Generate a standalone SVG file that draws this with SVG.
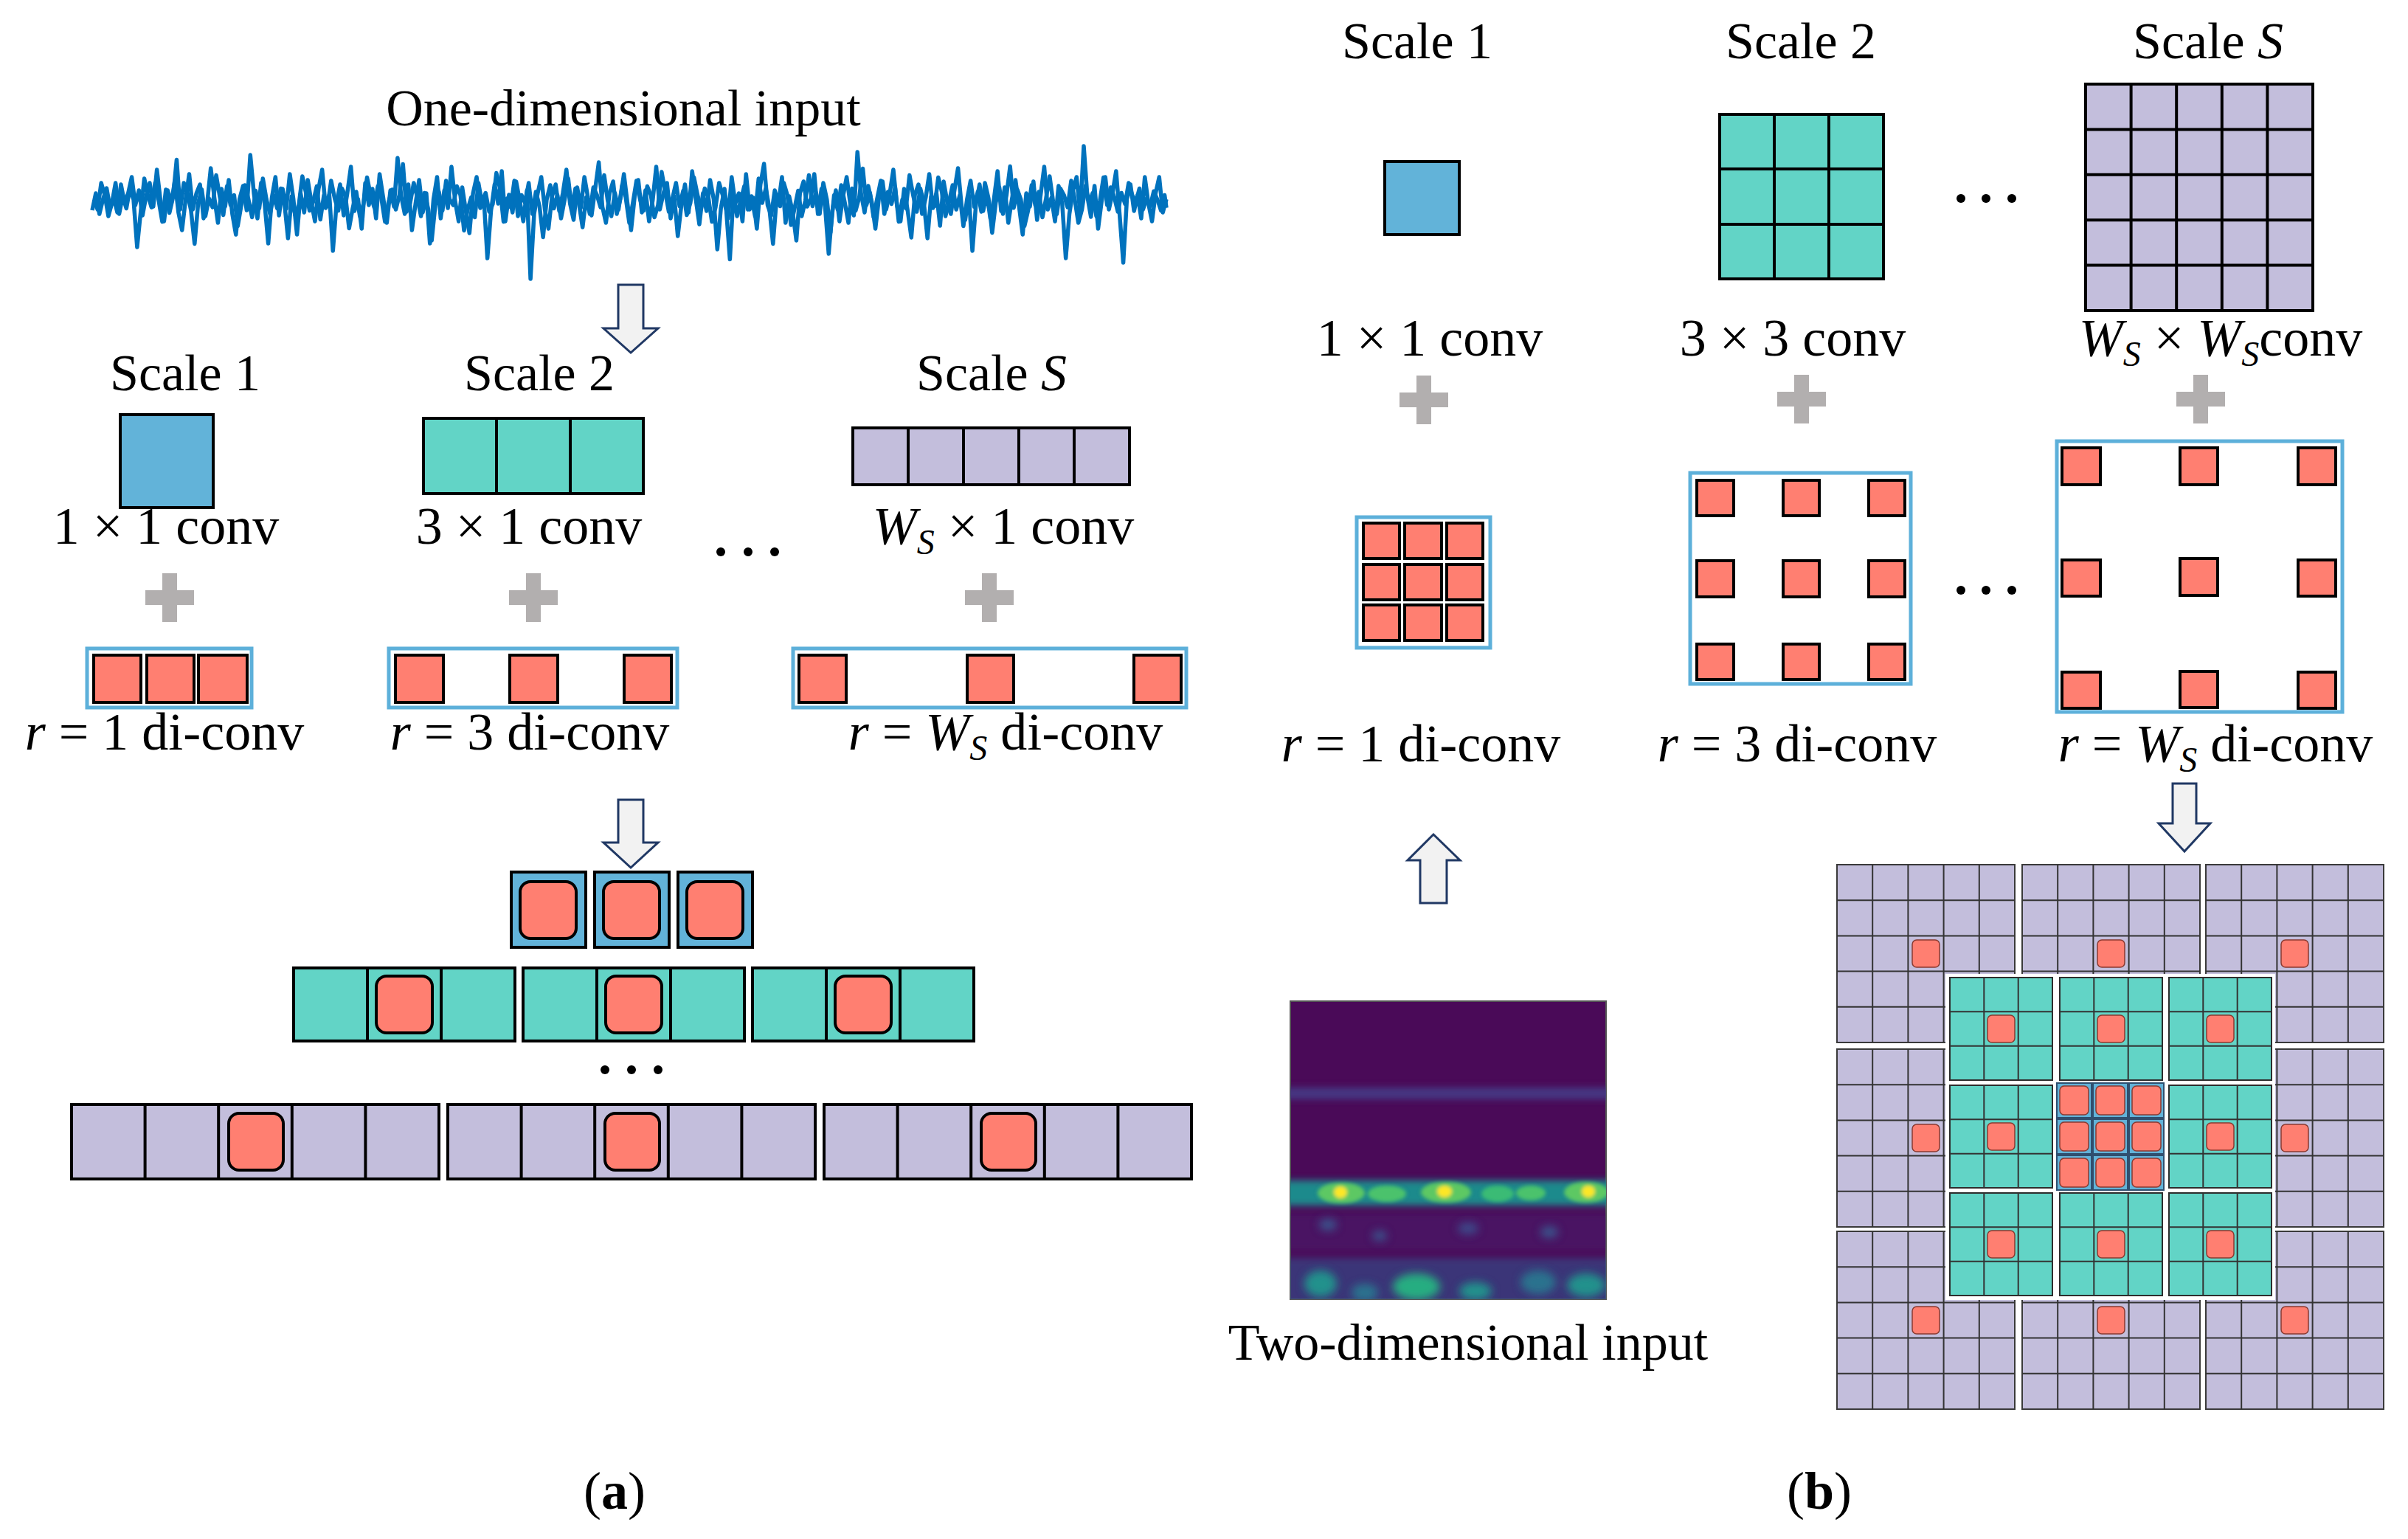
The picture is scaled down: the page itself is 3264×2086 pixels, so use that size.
<svg xmlns="http://www.w3.org/2000/svg" xmlns:xlink="http://www.w3.org/1999/xlink" width="3264" height="2086" viewBox="0 0 3264 2086">
<style>
.t{font-family:"Liberation Serif","Times New Roman",serif;font-size:70px;fill:#000;text-anchor:middle}
.m{font-size:72px}
.i{font-style:italic}
.sub{font-size:48px;font-style:italic}
.b{font-weight:bold}
.k{stroke:#000;stroke-width:4}
.blue{fill:#62B3D9}
.teal{fill:#62D4C6}
.lav{fill:#C3BEDC}
.sal{fill:#FF7F71}
.box{fill:#fff;stroke:#5DB0DA;stroke-width:5}
.arr{fill:#F2F2F2;stroke:#203864;stroke-width:3;stroke-linejoin:miter}
.plus{fill:#B2AFAF}
.gl{stroke:#000;stroke-width:4;fill:none}
.tl{stroke:#333;stroke-width:2;fill:none}
.ss{fill:#FF7F71;stroke:#8A3A30;stroke-width:1.5}
.wave{fill:none;stroke:#0072BD;stroke-width:5.5;stroke-linejoin:round}
</style>
<defs>
<g id="plus"><rect x="-33" y="-10" width="66" height="20"/><rect x="-10" y="-33" width="20" height="66"/></g>
<g id="lavBlk">
<rect width="241" height="241" class="lav" stroke="#3a3a3a" stroke-width="2"/>
<path class="tl" d="M48.2 0V241M96.4 0V241M144.6 0V241M192.8 0V241M0 48.2H241M0 96.4H241M0 144.6H241M0 192.8H241"/>
<rect x="102" y="102" width="37" height="37" rx="6" class="ss"/>
</g>
<g id="tealBlk">
<rect width="139" height="139" class="teal" stroke="#2d2d2d" stroke-width="2"/>
<path class="tl" d="M46.3 0V139M92.7 0V139M0 46.3H139M0 92.7H139"/>
<rect x="51" y="51" width="37" height="37" rx="6" class="ss"/>
</g>
<g id="bCell">
<rect width="47" height="47" class="blue" stroke="#2f4f6f" stroke-width="2"/>
<rect x="4" y="4" width="39" height="39" rx="6" class="ss"/>
</g>
<g id="pBlue">
<rect width="101" height="102" class="blue k"/>
<rect x="12" y="13" width="76" height="77" rx="14" class="sal k"/>
</g>
<g id="pTeal">
<rect width="300" height="99" class="teal k"/>
<path class="gl" d="M100 0V99M200 0V99"/>
<rect x="112" y="11" width="76" height="77" rx="14" class="sal k"/>
</g>
<g id="pLav">
<rect width="498" height="101" class="lav k"/>
<path class="gl" d="M99.6 0V101M199.2 0V101M298.8 0V101M398.4 0V101"/>
<rect x="213" y="12" width="74" height="77" rx="14" class="sal k"/>
</g>
<clipPath id="specClip"><rect x="1749" y="1357" width="428" height="404"/></clipPath>
<filter id="blur" x="-20%" y="-20%" width="140%" height="140%"><feGaussianBlur stdDeviation="5"/></filter>
<filter id="blur2" x="-20%" y="-20%" width="140%" height="140%"><feGaussianBlur stdDeviation="2.5"/></filter>
<filter id="blur3" x="-20%" y="-20%" width="140%" height="140%"><feGaussianBlur stdDeviation="6"/></filter>
</defs>
<rect width="3264" height="2086" fill="#fff"/>

<!-- ===== Panel (a) ===== -->
<g id="a-input">
<text class="t" x="845" y="170">One-dimensional input</text>
<polyline class="wave" vector-effect="non-scaling-stroke" transform="translate(125 0) scale(4.8696 1)" points="0,285 1,262 2,290 3,270 4,255 5,282 6,268 7,288 8,250 9,275 10,262 11,240 12,278 13,258 14,292 15,266 16,248 17,280 18,230 19,272 20,300 21,258 22,276 23,245 24,288 25,312 26,270 27,236 28,284 29,262 30,250 31,296 32,275 33,228 34,268 35,302 36,256 37,280 38,244 39,290 40,318 41,270 42,252 43,285 44,210 45,262 46,296 47,248 48,276 49,330 50,268 51,240 52,292 53,256 54,283 55,236 56,270 57,318 58,262 59,288 60,244 61,274 62,300 63,256 64,230 65,282 66,264 67,340 68,276 69,250 70,292 71,262 72,226 73,286 74,270 75,310 76,248 77,278 78,256 79,296 80,236 81,268 82,302 83,258 84,280 85,214 86,266 87,290 88,250 89,312 90,276 91,244 92,288 93,262 94,330 95,270 96,240 97,296 98,258 99,282 100,226 101,272 102,300 103,254 104,286 105,316 106,262 107,240 108,282 109,268 110,350 111,286 112,250 113,276 114,232 115,300 116,264 117,288 118,246 119,272 120,300 121,258 122,378 123,290 124,262 125,240 126,284 127,310 128,266 129,250 130,286 131,262 132,230 133,276 134,298 135,254 136,282 137,240 138,268 139,292 140,256 141,220 142,280 143,302 144,262 145,246 146,290 147,270 148,236 149,276 150,312 151,266 152,244 153,288 154,258 155,300 156,272 157,226 158,284 159,262 160,248 161,296 162,266 163,320 164,278 165,250 166,288 167,232 168,270 169,304 170,262 171,286 172,244 173,270 174,338 175,282 176,256 177,296 178,240 179,276 180,262 181,300 182,236 183,284 184,268 185,310 186,250 187,222 188,278 189,292 190,258 191,276 192,240 193,302 194,266 195,288 196,326 197,262 198,246 199,280 200,270 201,236 202,290 203,256 204,280 205,344 206,286 207,258 208,300 209,266 210,240 211,276 212,292 213,206 214,262 215,288 216,252 217,274 218,310 219,268 220,246 221,284 222,262 223,230 224,278 225,300 226,256 227,286 228,322 229,264 230,250 231,290 232,268 233,236 234,282 235,262 236,306 237,246 238,274 239,290 240,258 241,228 242,280 243,298 244,264 245,340 246,276 247,250 248,286 249,262 250,296 251,270 252,232 253,286 254,254 255,302 256,270 257,244 258,280 259,318 260,262 261,280 262,246 263,298 264,264 265,226 266,284 267,268 268,300 269,252 270,276 271,350 272,290 273,258 274,240 275,288 276,198 277,266 278,294 279,252 280,310 281,272 282,240 283,284 284,262 285,232 286,292 287,356 288,270 289,250 290,286 291,264 292,296 293,240 294,276 295,300 296,262 297,240 298,288 299,270"/>
<polyline class="wave" vector-effect="non-scaling-stroke" transform="translate(125 68) scale(4.8696 0.75)" points="0.5,270 1.5,288 2.5,240 3.5,262 4.5,300 5.5,276 6.5,240 7.5,296 8.5,264 9.5,286 10.5,250 11.5,270 12.5,356 13.5,292 14.5,232 15.5,262 16.5,284 17.5,240 18.5,272 19.5,310 20.5,252 21.5,294 22.5,266 23.5,198 24.5,288 25.5,240 26.5,258 27.5,290 28.5,350 29.5,276 30.5,252 31.5,300 32.5,268 33.5,284 34.5,226 35.5,264 36.5,298 37.5,246 38.5,280 39.5,262 40.5,318 41.5,280 42.5,244 43.5,270 44.5,302 45.5,254 46.5,286 47.5,232 48.5,270 49.5,296 50.5,262 51.5,286 52.5,250 53.5,276 54.5,340 55.5,264 56.5,298 57.5,280 58.5,228 59.5,258 60.5,290 61.5,274 62.5,246 63.5,306 64.5,262 65.5,282 66.5,236 67.5,268 68.5,290 69.5,250 70.5,264 71.5,322 72.5,286 73.5,256 74.5,300 75.5,278 76.5,230 77.5,262 78.5,284 79.5,246 80.5,268 81.5,310 82.5,274 83.5,252 84.5,288 85.5,262 86.5,206 87.5,292 88.5,276 89.5,240 90.5,266 91.5,300 92.5,258 93.5,286 94.5,344 95.5,280 96.5,256 97.5,290 98.5,236 99.5,270 100.5,280 101.5,246 102.5,262 103.5,326 104.5,288 105.5,266 106.5,302 107.5,240 108.5,276 109.5,258 110.5,292 111.5,278 112.5,222 113.5,250 114.5,310 115.5,268 116.5,284 117.5,236 118.5,300 119.5,262 120.5,276 121.5,240 122.5,296 123.5,256 124.5,282 125.5,338 126.5,270 127.5,244 128.5,286 129.5,262 130.5,304 131.5,270 132.5,232 133.5,288 134.5,250 135.5,278 136.5,320 137.5,266 138.5,296 139.5,248 140.5,262 141.5,284 142.5,226 143.5,272 144.5,300 145.5,258 146.5,288 147.5,244 148.5,266 149.5,312 150.5,276 151.5,236 152.5,270 153.5,290 154.5,246 155.5,262 156.5,302 157.5,280 158.5,220 159.5,256 160.5,292 161.5,268 162.5,240 163.5,282 164.5,254 165.5,298 166.5,276 167.5,230 168.5,262 169.5,286 170.5,250 171.5,266 172.5,310 173.5,284 174.5,240 175.5,262 176.5,290 177.5,378 178.5,258 179.5,300 180.5,272 181.5,246 182.5,288 183.5,264 184.5,300 185.5,232 186.5,276 187.5,250 188.5,286 189.5,350 190.5,268 191.5,282 192.5,240 193.5,262 194.5,316 195.5,286 196.5,254 197.5,300 198.5,272 199.5,226 200.5,282 201.5,258 202.5,296 203.5,240 204.5,270 205.5,330 206.5,262 207.5,288 208.5,244 209.5,276 210.5,312 211.5,250 212.5,290 213.5,266 214.5,214 215.5,280 216.5,258 217.5,302 218.5,268 219.5,236 220.5,296 221.5,256 222.5,278 223.5,248 224.5,310 225.5,270 226.5,286 227.5,226 228.5,262 229.5,292 230.5,250 231.5,276 232.5,340 233.5,264 234.5,282 235.5,230 236.5,256 237.5,300 238.5,274 239.5,244 240.5,288 241.5,262 242.5,318 243.5,270 244.5,236 245.5,283 246.5,256 247.5,292 248.5,240 249.5,268 250.5,330 251.5,276 252.5,248 253.5,296 254.5,262 255.5,210 256.5,285 257.5,252 258.5,270 259.5,318 260.5,290 261.5,244 262.5,280 263.5,256 264.5,302 265.5,268 266.5,228 267.5,275 268.5,296 269.5,250 270.5,262 271.5,284 272.5,236 273.5,270 274.5,312 275.5,288 276.5,245 277.5,276 278.5,258 279.5,300 280.5,272 281.5,230 282.5,280 283.5,248 284.5,266 285.5,292 286.5,258 287.5,278 288.5,240 289.5,262 290.5,275 291.5,250 292.5,288 293.5,268 294.5,282 295.5,255 296.5,270 297.5,290 298.5,262 299,285"/>
</g>

<g id="a-scale1">
<text class="t" x="251" y="529">Scale 1</text>
<rect x="163" y="562" width="126" height="126" class="blue k"/>
<text class="t m" x="225" y="737">1 × 1 conv</text>
<use href="#plus" x="230" y="810" class="plus"/>
<rect x="118" y="879" width="223" height="80" class="box"/>
<rect x="127" y="888" width="64" height="64" class="sal k"/>
<rect x="199" y="888" width="64" height="64" class="sal k"/>
<rect x="269" y="888" width="66" height="64" class="sal k"/>
<text class="t m" x="223" y="1016"><tspan class="i">r</tspan> = 1 di-conv</text>
</g>

<g id="a-scale2">
<text class="t" x="731" y="529">Scale 2</text>
<rect x="574" y="567" width="298" height="102" class="teal k"/>
<path class="gl" d="M673 567V669M773 567V669"/>
<text class="t m" x="717" y="737">3 × 1 conv</text>
<use href="#plus" x="723" y="810" class="plus"/>
<rect x="527" y="879" width="391" height="80" class="box"/>
<rect x="536" y="888" width="65" height="64" class="sal k"/>
<rect x="691" y="888" width="65" height="64" class="sal k"/>
<rect x="846" y="888" width="64" height="64" class="sal k"/>
<text class="t m" x="718" y="1016"><tspan class="i">r</tspan> = 3 di-conv</text>
</g>

<g id="a-dots1">
<circle cx="977" cy="748" r="6"/><circle cx="1014" cy="748" r="6"/><circle cx="1050" cy="748" r="6"/>
</g>

<g id="a-scaleS">
<text class="t" x="1344" y="529">Scale <tspan class="i">S</tspan></text>
<rect x="1156" y="580" width="375" height="77" class="lav k"/>
<path class="gl" d="M1231 580V657M1306 580V657M1381 580V657M1456 580V657"/>
<text class="t m" x="1360" y="737"><tspan class="i">W</tspan><tspan class="sub" dy="14">S</tspan><tspan dy="-14"> × 1 conv</tspan></text>
<use href="#plus" x="1341" y="810" class="plus"/>
<rect x="1075" y="879" width="533" height="80" class="box"/>
<rect x="1083" y="888" width="64" height="64" class="sal k"/>
<rect x="1311" y="888" width="63" height="64" class="sal k"/>
<rect x="1537" y="888" width="64" height="64" class="sal k"/>
<text class="t m" x="1363" y="1016"><tspan class="i">r</tspan> = <tspan class="i">W</tspan><tspan class="sub" dy="14">S</tspan><tspan dy="-14"> di-conv</tspan></text>
</g>

<g id="a-pyramid">
<use href="#pBlue" x="693" y="1182"/>
<use href="#pBlue" x="806" y="1182"/>
<use href="#pBlue" x="919" y="1182"/>
<use href="#pTeal" x="398" y="1312"/>
<use href="#pTeal" x="709" y="1312"/>
<use href="#pTeal" x="1020" y="1312"/>
<circle cx="820" cy="1450" r="6"/><circle cx="856" cy="1450" r="6"/><circle cx="892" cy="1450" r="6"/>
<use href="#pLav" x="97" y="1497"/>
<use href="#pLav" x="607" y="1497"/>
<use href="#pLav" x="1117" y="1497"/>
</g>

<text class="t m" x="833" y="2045">(<tspan class="b">a</tspan>)</text>

<!-- ===== Panel (b) ===== -->
<g id="b-scale1">
<text class="t" x="1921" y="79">Scale 1</text>
<rect x="1877" y="219" width="101" height="99" class="blue k"/>
<text class="t m" x="1938" y="482">1 × 1 conv</text>
<use href="#plus" x="1930" y="542" class="plus"/>
<rect x="1839" y="701" width="181" height="177" class="box"/>
<g class="sal k">
<rect x="1848" y="709" width="49" height="48"/><rect x="1904" y="709" width="50" height="48"/><rect x="1961" y="709" width="49" height="48"/>
<rect x="1848" y="765" width="49" height="48"/><rect x="1904" y="765" width="50" height="48"/><rect x="1961" y="765" width="49" height="48"/>
<rect x="1848" y="820" width="49" height="48"/><rect x="1904" y="820" width="50" height="48"/><rect x="1961" y="820" width="49" height="48"/>
</g>
<text class="t m" x="1926" y="1032"><tspan class="i">r</tspan> = 1 di-conv</text>
</g>

<g id="b-scale2">
<text class="t" x="2441" y="79">Scale 2</text>
<rect x="2331" y="155" width="222" height="223" class="teal k"/>
<path class="gl" d="M2405 155V378M2479 155V378M2331 229H2553M2331 304H2553"/>
<text class="t m" x="2430" y="482">3 × 3 conv</text>
<use href="#plus" x="2442" y="541" class="plus"/>
<rect x="2291" y="641" width="299" height="286" class="box"/>
<g class="sal k">
<rect x="2300" y="651" width="50" height="48"/><rect x="2417" y="651" width="49" height="48"/><rect x="2533" y="651" width="49" height="48"/>
<rect x="2300" y="760" width="50" height="49"/><rect x="2417" y="760" width="49" height="49"/><rect x="2533" y="760" width="49" height="49"/>
<rect x="2300" y="873" width="50" height="48"/><rect x="2417" y="873" width="49" height="48"/><rect x="2533" y="873" width="49" height="48"/>
</g>
<text class="t m" x="2436" y="1032"><tspan class="i">r</tspan> = 3 di-conv</text>
</g>

<g id="b-dots">
<circle cx="2658" cy="269" r="6"/><circle cx="2692" cy="269" r="6"/><circle cx="2727" cy="269" r="6"/>
<circle cx="2658" cy="800" r="6"/><circle cx="2692" cy="800" r="6"/><circle cx="2727" cy="800" r="6"/>
</g>

<g id="b-scaleS">
<text class="t" x="2993" y="79">Scale <tspan class="i">S</tspan></text>
<rect x="2827" y="114" width="308" height="307" class="lav k"/>
<path class="gl" d="M2888.6 114V421M2950.2 114V421M3011.8 114V421M3073.4 114V421M2827 175.4H3135M2827 236.8H3135M2827 298.2H3135M2827 359.6H3135"/>
<text class="t m" x="3010" y="482"><tspan class="i">W</tspan><tspan class="sub" dy="14">S</tspan><tspan dy="-14"> × </tspan><tspan class="i">W</tspan><tspan class="sub" dy="14">S</tspan><tspan dy="-14">conv</tspan></text>
<use href="#plus" x="2983" y="541" class="plus"/>
<rect x="2788" y="598" width="387" height="367" class="box"/>
<g class="sal k">
<rect x="2795" y="607" width="52" height="50"/><rect x="2955" y="607" width="51" height="50"/><rect x="3115" y="607" width="51" height="50"/>
<rect x="2795" y="759" width="52" height="49"/><rect x="2955" y="757" width="51" height="50"/><rect x="3115" y="759" width="51" height="49"/>
<rect x="2795" y="911" width="52" height="49"/><rect x="2955" y="910" width="51" height="49"/><rect x="3115" y="911" width="51" height="49"/>
</g>
<text class="t m" x="3003" y="1032"><tspan class="i">r</tspan> = <tspan class="i">W</tspan><tspan class="sub" dy="14">S</tspan><tspan dy="-14"> di-conv</tspan></text>
</g>

<g id="b-input">
<rect x="1749" y="1357" width="428" height="404" fill="#4A0A58" stroke="#555" stroke-width="2"/>
<g clip-path="url(#specClip)">
<g filter="url(#blur)">
<rect x="1740" y="1474" width="450" height="16" fill="#45418A" opacity="0.85"/>
<rect x="1740" y="1600" width="450" height="34" fill="#1F8A8C"/>
<rect x="1740" y="1645" width="450" height="50" fill="#482878" opacity="0.35"/>
<rect x="1740" y="1705" width="450" height="65" fill="#33538D" opacity="0.6"/>
</g>
<g filter="url(#blur2)">
<ellipse cx="1818" cy="1617" rx="32" ry="14" fill="#5DC863"/>
<ellipse cx="1880" cy="1618" rx="26" ry="11" fill="#4CC26C"/>
<ellipse cx="1960" cy="1616" rx="34" ry="14" fill="#5DC863"/>
<ellipse cx="2030" cy="1618" rx="22" ry="11" fill="#3BBB75"/>
<ellipse cx="2075" cy="1617" rx="20" ry="10" fill="#4CC26C"/>
<ellipse cx="2150" cy="1616" rx="30" ry="14" fill="#5DC863"/>
<ellipse cx="1817" cy="1616" rx="9" ry="8" fill="#FDE725"/>
<ellipse cx="1958" cy="1615" rx="10" ry="8" fill="#FDE725"/>
<ellipse cx="2153" cy="1615" rx="9" ry="8" fill="#FDE725"/>
</g>
<g filter="url(#blur3)">
<ellipse cx="1800" cy="1660" rx="12" ry="8" fill="#3B528B"/>
<ellipse cx="1870" cy="1675" rx="10" ry="7" fill="#3B528B"/>
<ellipse cx="1990" cy="1665" rx="14" ry="8" fill="#3E4A89"/>
<ellipse cx="2100" cy="1670" rx="12" ry="8" fill="#3B528B"/>
<ellipse cx="1790" cy="1740" rx="22" ry="18" fill="#21918C"/>
<ellipse cx="1850" cy="1752" rx="18" ry="12" fill="#2C728E"/>
<ellipse cx="1920" cy="1744" rx="32" ry="18" fill="#27AD81"/>
<ellipse cx="2000" cy="1750" rx="22" ry="12" fill="#21918C"/>
<ellipse cx="2085" cy="1738" rx="24" ry="16" fill="#2C728E"/>
<ellipse cx="2150" cy="1742" rx="26" ry="16" fill="#21918C"/>
</g>
</g>
<text class="t" x="1990" y="1843">Two-dimensional input</text>
</g>

<g id="b-grid">
<use href="#lavBlk" x="2490" y="1172"/>
<use href="#lavBlk" x="2741" y="1172"/>
<use href="#lavBlk" x="2990" y="1172"/>
<use href="#lavBlk" x="2490" y="1422"/>
<use href="#lavBlk" x="2990" y="1422"/>
<use href="#lavBlk" x="2490" y="1669"/>
<use href="#lavBlk" x="2741" y="1669"/>
<use href="#lavBlk" x="2990" y="1669"/>
<rect x="2637" y="1320" width="447" height="442" fill="#fff"/>
<use href="#tealBlk" x="2643" y="1325"/>
<use href="#tealBlk" x="2792" y="1325"/>
<use href="#tealBlk" x="2940" y="1325"/>
<use href="#tealBlk" x="2643" y="1471"/>
<use href="#tealBlk" x="2940" y="1471"/>
<use href="#tealBlk" x="2643" y="1617"/>
<use href="#tealBlk" x="2792" y="1617"/>
<use href="#tealBlk" x="2940" y="1617"/>
<use href="#bCell" x="2788" y="1468"/><use href="#bCell" x="2837" y="1468"/><use href="#bCell" x="2886" y="1468"/>
<use href="#bCell" x="2788" y="1517"/><use href="#bCell" x="2837" y="1517"/><use href="#bCell" x="2886" y="1517"/>
<use href="#bCell" x="2788" y="1566"/><use href="#bCell" x="2837" y="1566"/><use href="#bCell" x="2886" y="1566"/>
</g>

<text class="t m" x="2466" y="2045">(<tspan class="b">b</tspan>)</text>

<g id="connectors">
<path class="arr" d="M838,386 H872 V445 H892 L855,478 L818,445 H838 Z"/>
<path class="arr" d="M838,1084 H872 V1142 H892 L855,1176 L818,1142 H838 Z"/>
<path class="arr" d="M2945,1062 H2977 V1116 H2996 L2961,1154 L2926,1116 H2945 Z"/>
<path class="arr" d="M1925,1224 H1961 V1166 H1979 L1943,1131 L1908,1166 H1925 Z"/>
</g>
</svg>
